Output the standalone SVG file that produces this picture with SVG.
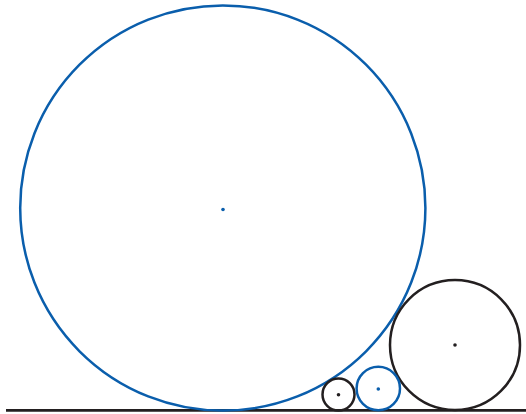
<svg xmlns="http://www.w3.org/2000/svg" width="526" height="414" viewBox="0 0 526 414">
<style>
.b{fill:none;stroke:#0a5eac;stroke-width:2.5}
.k{fill:none;stroke:#231f20;stroke-width:2.5}
.bd{fill:#0a5eac}
.kd{fill:#231f20}
</style>
<rect width="526" height="414" fill="#fff"/>
<g id="connectors">
<line x1="6" y1="410.4" x2="526" y2="410.4" stroke="#231f20" stroke-width="2.6"/>
</g>
<g id="bigBlue"><circle class="b" cx="222.8" cy="208" r="202.6"/><circle class="bd" cx="223" cy="209.5" r="1.8"/></g>
<g id="bigBlack"><circle class="k" cx="455" cy="345" r="65"/><circle class="kd" cx="455" cy="345" r="1.8"/></g>
<g id="smallBlack"><circle class="k" cx="338.5" cy="394.5" r="16"/><circle class="kd" cx="338.5" cy="394.8" r="1.8"/></g>
<g id="smallBlue"><circle class="b" cx="378.3" cy="388.5" r="21.7"/><circle class="bd" cx="378.3" cy="389" r="1.8"/></g>
</svg>
